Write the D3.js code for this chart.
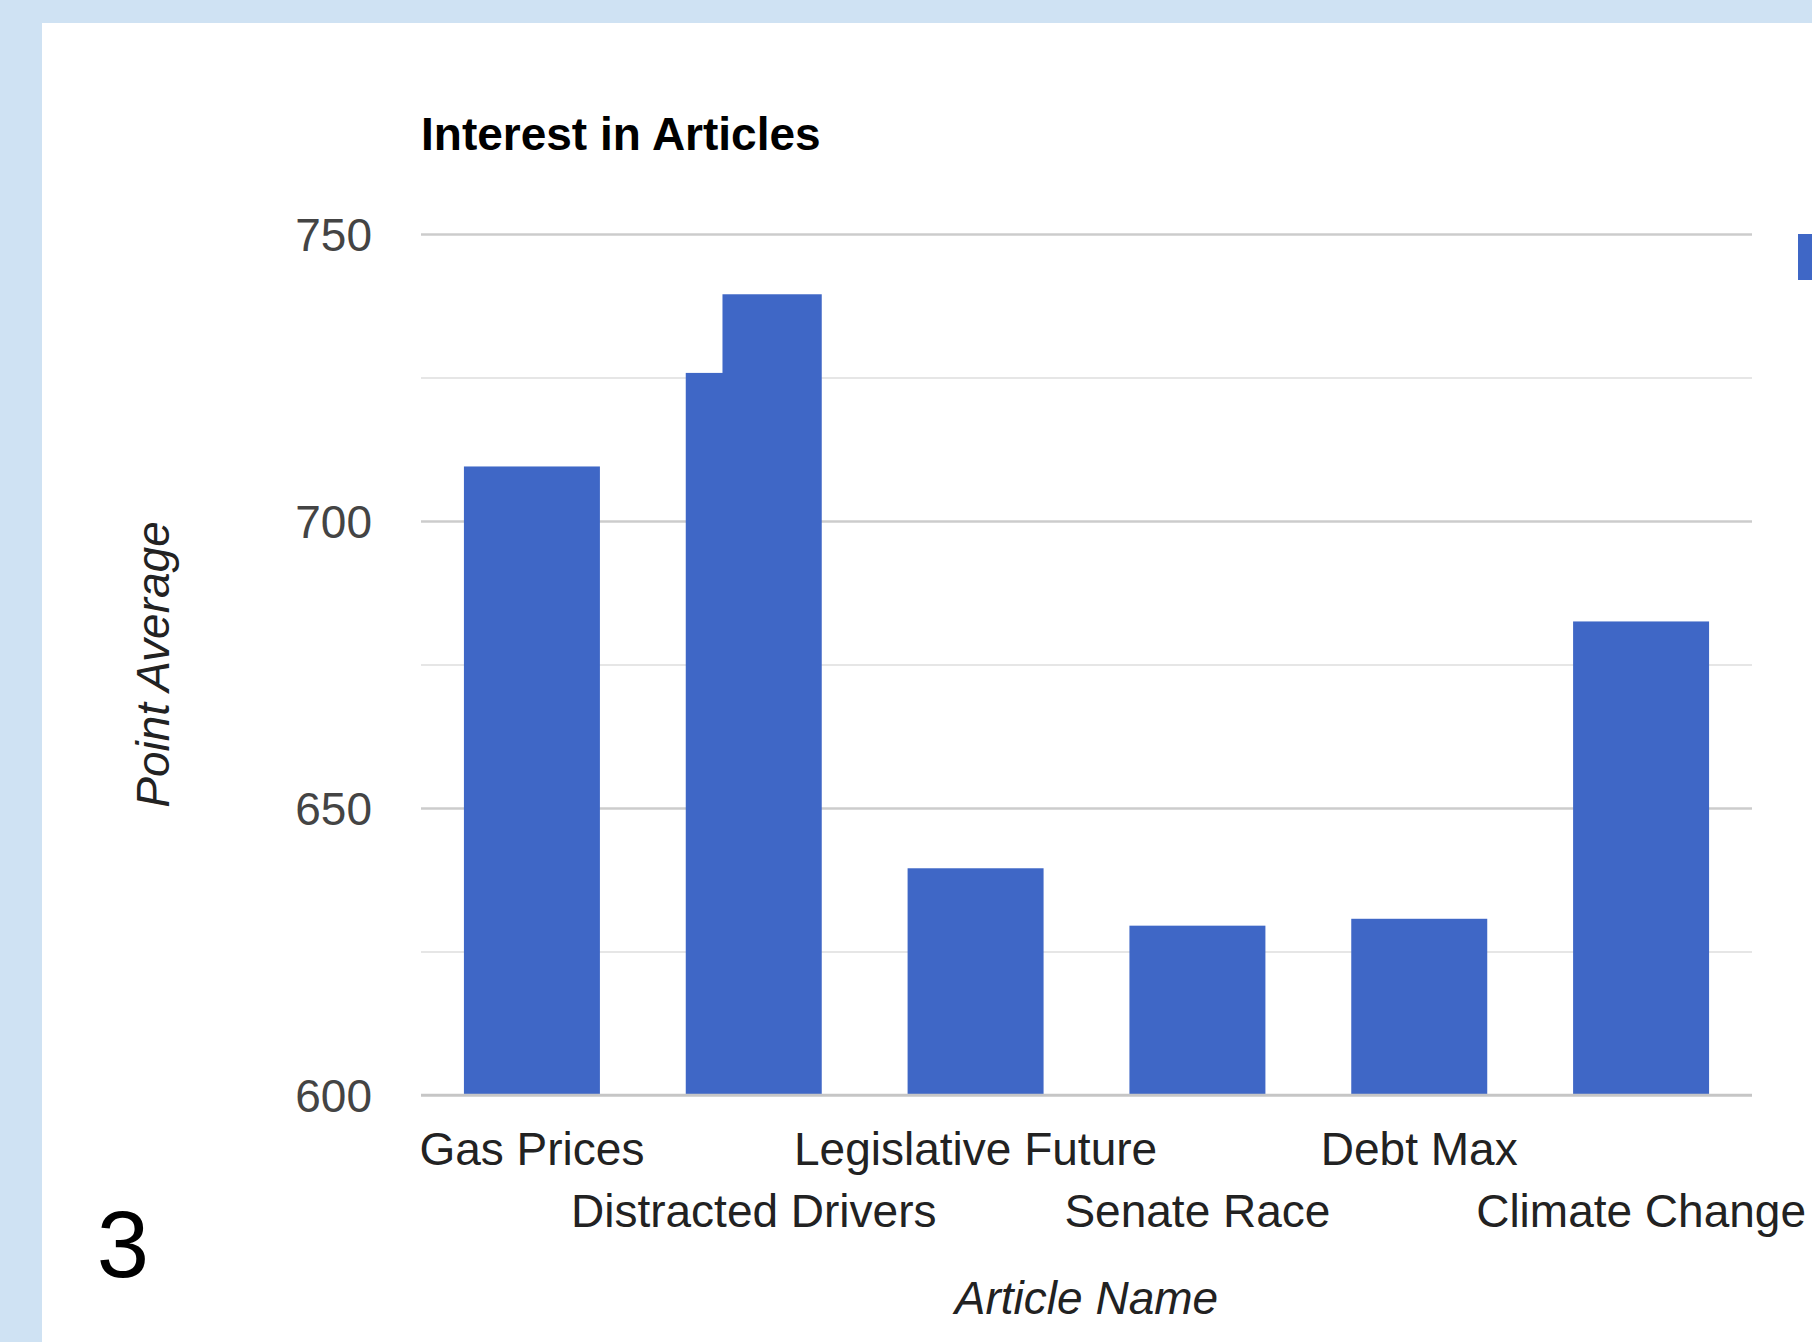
<!DOCTYPE html>
<html>
<head>
<meta charset="utf-8">
<script src="https://cdn.jsdelivr.net/npm/d3@7"></script>
<style>
  html, body { margin: 0; padding: 0; background: #cfe2f3; }
  svg { display: block; }
  text { font-family: "Liberation Sans", Arial, sans-serif; }
</style>
</head>
<body>
<svg id="chart" width="1812" height="1342"></svg>
<script>
// ---- data ----
const categories = ["Gas Prices", "Distracted Drivers", "Legislative Future", "Senate Race", "Debt Max", "Climate Change"];
const values = [709.5, 739.5, 639.5, 629.5, 630.7, 682.5];
// the Distracted Drivers bar shows a stepped top: its left part stops lower
const stepCategory = "Distracted Drivers";
const stepValue = 725.8;
const majorTicks = [600, 650, 700, 750];
const minorTicks = [625, 675, 725];
const chartTitle = "Interest in Articles";
const xTitle = "Article Name";
const yTitle = "Point Average";
const slideNumber = "3";

// ---- layout ----
const W = 1812, H = 1342;
const plotLeft = 421, plotRight = 1752, plotTop = 234, plotBottom = 1095;
const barColor = "#3f67c6";

const svg = d3.select("#chart");
svg.append("rect").attr("x", 0).attr("y", 0).attr("width", W).attr("height", H).attr("fill", "#cfe2f3");
svg.append("rect").attr("x", 42).attr("y", 23).attr("width", W - 42).attr("height", H - 23).attr("fill", "#ffffff");

const x = d3.scaleBand().domain(categories).range([plotLeft, plotRight]).paddingInner(0.387).paddingOuter(0.1935);
const y = d3.scaleLinear().domain([600, 750]).range([plotBottom, plotTop]);

const g = svg.append("g");

// minor gridlines
const minorAxis = d3.axisLeft(y).tickValues(minorTicks).tickSize(-(plotRight - plotLeft)).tickFormat("");
const gm = g.append("g").attr("transform", `translate(${plotLeft},0)`).call(minorAxis);
gm.select(".domain").remove();
gm.selectAll(".tick line").attr("stroke", "#e6e6e6").attr("stroke-width", 2);

// major gridlines + labels
const majorAxis = d3.axisLeft(y).tickValues(majorTicks).tickSize(-(plotRight - plotLeft)).tickPadding(49).tickFormat(d3.format("d"));
const gM = g.append("g").attr("transform", `translate(${plotLeft},0)`).call(majorAxis);
gM.select(".domain").remove();
gM.selectAll(".tick line").attr("stroke", "#cccccc").attr("stroke-width", 2.5);
gM.selectAll(".tick text")
  .attr("font-size", 46)
  .attr("dy", "0.36em")
  .attr("fill", "#444444")
  .attr("font-family", "Liberation Sans, Arial, sans-serif");

// bars
g.selectAll("rect.bar").data(categories).enter().append("rect")
  .attr("class", "bar")
  .attr("x", d => x(d))
  .attr("width", x.bandwidth())
  .attr("y", (d, i) => y(values[i]))
  .attr("height", (d, i) => y(600) - y(values[i]))
  .attr("fill", barColor);

// stepped top on one bar
const si = categories.indexOf(stepCategory);
g.append("rect")
  .attr("x", x(stepCategory) - 1)
  .attr("width", x.bandwidth() * 0.27 + 1)
  .attr("y", y(values[si]) - 1)
  .attr("height", y(stepValue) - y(values[si]) + 1)
  .attr("fill", "#ffffff");

// baseline
g.append("line")
  .attr("x1", plotLeft).attr("x2", plotRight)
  .attr("y1", y(600)).attr("y2", y(600))
  .attr("stroke", "#c6c6c6").attr("stroke-width", 2.5);

// x labels (staggered)
g.selectAll("text.xlab").data(categories).enter().append("text")
  .attr("class", "xlab")
  .attr("x", d => x(d) + x.bandwidth() / 2)
  .attr("y", (d, i) => plotBottom + (i % 2 === 0 ? 70 : 132))
  .attr("text-anchor", "middle")
  .attr("font-size", 46)
  .attr("fill", "#222222")
  .text(d => d);

// title
svg.append("text")
  .attr("x", plotLeft).attr("y", 150)
  .attr("font-size", 46).attr("font-weight", "bold").attr("fill", "#000000")
  .text(chartTitle);

// axis titles
svg.append("text")
  .attr("x", (plotLeft + plotRight) / 2).attr("y", 1314)
  .attr("text-anchor", "middle")
  .attr("font-size", 46).attr("font-style", "italic").attr("fill", "#222222")
  .text(xTitle);

svg.append("text")
  .attr("transform", `translate(169,${(plotTop + plotBottom) / 2}) rotate(-90)`)
  .attr("text-anchor", "middle")
  .attr("font-size", 46).attr("font-style", "italic").attr("fill", "#222222")
  .text(yTitle);

// legend swatch (clipped by the page edge)
svg.append("rect")
  .attr("x", 1798).attr("y", plotTop)
  .attr("width", 46).attr("height", 46)
  .attr("fill", barColor);

// slide number
svg.append("text")
  .attr("x", 123).attr("y", 1277)
  .attr("text-anchor", "middle")
  .attr("font-size", 94).attr("fill", "#000000")
  .text(slideNumber);
</script>
</body>
</html>
